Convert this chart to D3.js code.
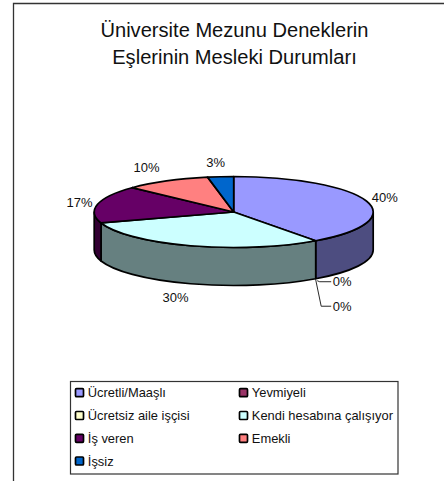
<!DOCTYPE html>
<html><head><meta charset="utf-8">
<script src="https://cdn.jsdelivr.net/npm/d3@7/dist/d3.min.js"></script>
<style>html,body{margin:0;padding:0;background:#fff}svg{display:block}text{font-family:"Liberation Sans",Arial,sans-serif;fill:#111}</style>
</head><body><svg id="c" width="444" height="481"></svg>
<script>
const titleLines = ["Üniversite Mezunu Deneklerin", "Eşlerinin Mesleki Durumları"];
const categories = ["Ücretli/Maaşlı", "Yevmiyeli", "Ücretsiz aile işçisi", "Kendi hesabına çalışıyor", "İş veren", "Emekli", "İşsiz"];
const values = [40, 0, 0, 30, 17, 10, 3];
const colors = ["#9999FF", "#993366", "#FFFFCC", "#CCFFFF", "#660066", "#FF8080", "#0066CC"];
const sideColors = ["#4D4D80", "#4D1A33", "#808066", "#668080", "#330033", "#804040", "#003366"];

// layout
const cx = 233.7, cy = 212, rx = 139.5, ry = 35.5, depth = 38;
const labelOffsets = [[18.5,-4],[0,0],[0,0],[-15,14],[-18,-2],[-20,-13],[-5,-14]];
const svg = d3.select("#c");

// frame (no right edge)
svg.append("path").attr("d","M13.5,481V3.5H444").attr("fill","none").attr("stroke","#333").attr("stroke-width",1.3);

svg.selectAll("text.title").data(titleLines).join("text").attr("class","title")
  .attr("x",234.5).attr("y",(d,i)=>36.5+i*27).attr("text-anchor","middle").attr("font-size",20.1).text(d=>d);

const arcs = d3.pie().sort(null).value(d=>d)(values);
const px = a => cx + rx*Math.sin(a), py = a => cy - ry*Math.cos(a);
const g = svg.append("g");

// sides, only the front half of the ellipse is visible
const lo = Math.PI/2, hi = 3*Math.PI/2;
const sides = arcs.map((a,i)=>({i,s:Math.max(a.startAngle,lo),e:Math.min(a.endAngle,hi)})).filter(d=>d.e>d.s);
g.selectAll("path.side").data(sides).join("path").attr("class","side")
  .attr("fill",d=>sideColors[d.i]).attr("stroke","#000").attr("stroke-width",1.7).attr("stroke-linejoin","round")
  .attr("d",d=>`M${px(d.s)},${py(d.s)}A${rx},${ry} 0 0 1 ${px(d.e)},${py(d.e)}`+
     `V${py(d.e)+depth}A${rx},${ry} 0 0 0 ${px(d.s)},${py(d.s)+depth}Z`);

// top slices
const arc = d3.arc().innerRadius(0).outerRadius(rx);
g.selectAll("path.top").data(arcs.filter(a=>a.value>0)).join("path").attr("class","top")
  .attr("transform",`translate(${cx},${cy}) scale(1,${ry/rx})`)
  .attr("d",arc).attr("fill",d=>colors[d.index]).attr("stroke","#000")
  .attr("stroke-width",1.7).attr("stroke-linejoin","round").style("vector-effect","non-scaling-stroke");

// percent labels
arcs.forEach((a,i)=>{
  if(a.value===0) return;
  const m=(a.startAngle+a.endAngle)/2;
  const ly = m>lo && m<hi ? py(m)+depth : py(m);
  svg.append("text").attr("text-anchor","middle").attr("font-size",13)
    .attr("x",px(m)+labelOffsets[i][0]).attr("y",ly+labelOffsets[i][1]+4.5).text(a.value+"%");
});

// zero-value labels with leader lines
const zeroSlices = arcs.filter(a=>a.value===0);
const zx = px(zeroSlices[0].startAngle), zy = py(zeroSlices[0].startAngle)+depth;
zeroSlices.forEach((a,i)=>{
  const y = zy + (i===0?3:27.5);
  const pts = i===0 ? [[zx+1.5,zy+2],[zx+4,y],[zx+15.5,y]] : [[zx,zy+1],[zx+5.5,y],[zx+15.5,y]];
  svg.append("path").attr("d",d3.line()(pts)).attr("fill","none").attr("stroke","#111").attr("stroke-width",0.9);
  svg.append("text").attr("x",zx+17).attr("y",y+4.5).attr("font-size",13).text(a.value+"%");
});

// legend
svg.append("rect").attr("x",70.5).attr("y",381.5).attr("width",327.5).attr("height",92.5)
  .attr("fill","#fff").attr("stroke","#333").attr("stroke-width",1.2);
const colX=[75.5,239.5], rowY=[392.7,415.5,438.3,461];
categories.forEach((c,i)=>{
  const x=colX[i%2], y=rowY[Math.floor(i/2)];
  svg.append("rect").attr("x",x).attr("y",y-4).attr("width",8).attr("height",8).attr("rx",1)
    .attr("fill",colors[i]).attr("stroke","#000").attr("stroke-width",1.7);
  svg.append("text").attr("x",x+12.3).attr("y",y+4.6).attr("font-size",12.9).text(c);
});
</script></body></html>
